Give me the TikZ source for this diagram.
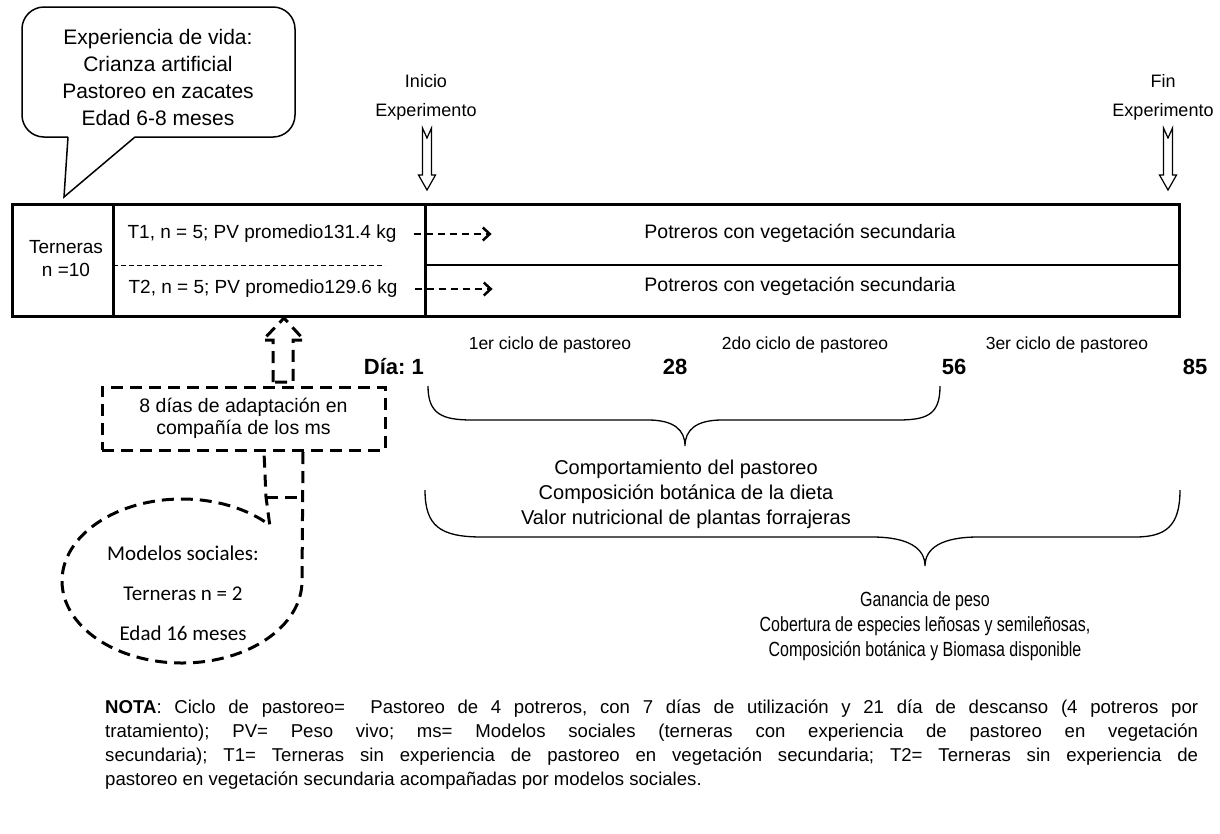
\documentclass[tikz,border=0pt]{standalone}
\usepackage{fontspec}
\setmainfont{Liberation Sans}
\newfontfamily\calfont{Carlito}
\newfontfamily\narrowfont[FakeStretch=0.78]{Liberation Sans}
\usetikzlibrary{arrows.meta}
\frenchspacing

\tikzset{
    lbl/.style={inner sep=0pt, align=center, font=\fontsize{19}{23}\selectfont},
    ciclo/.style={inner sep=0pt, font=\fontsize{17.5}{21}\selectfont},
    daynum/.style={inner sep=0pt, font=\bfseries\fontsize{22}{26}\selectfont},
    resumen/.style={inner sep=0pt, align=center, font=\fontsize{20}{25}\selectfont},
    thickdash/.style={line width=3pt, dash pattern=on 12pt off 7pt},
    flecha/.style={line width=1.3pt, dash pattern=on 7pt off 5pt, -{Straight Barb[length=7pt,width=13pt,line width=2.5pt]}},
    llave/.style={line width=1.3pt},
}

\begin{document}
\begin{tikzpicture}[x=1pt, y=-1pt]
    \useasboundingbox (0,0) rectangle (1220,833);

    % Experiencia de vida
    \draw[line width=1.5pt, rounded corners=22pt] (68,137) -- (22,137) -- (22,7) -- (295,7) -- (295,137) -- (135,137);
    \draw[line width=1.5pt] (68,137) -- (64,197) -- (135,137);
    \node[lbl, font=\fontsize{21}{27}\selectfont] (vida) at (158,77) {Experiencia de vida:\\Crianza artificial\\Pastoreo en zacates\\Edad 6-8 meses};

    % Inicio / Fin
    \node[lbl, font=\fontsize{18}{29}\selectfont] (inicio) at (426,97) {Inicio\\Experimento};
    \node[lbl, font=\fontsize{18}{29}\selectfont] (fin) at (1163,97) {Fin\\Experimento};
    \foreach \ax in {427,1168}
        \draw[line width=1.2pt, fill=white] ({\ax-4.5},128) -- (\ax,138) -- ({\ax+4.5},128) -- ({\ax+4.5},175)
            -- ({\ax+8.5},175) -- (\ax,190) -- ({\ax-8.5},175) -- ({\ax-4.5},175) -- cycle;

    % Tabla
    \draw[line width=3pt] (12,204) rectangle (1179,316);
    \foreach \vx in {113,425}
        \draw[line width=3pt] (\vx,204) -- (\vx,316);
    \draw[line width=1.5pt] (425,265) -- (1179,265);
    \draw[line width=1pt, dash pattern=on 5pt off 3pt] (113,265) -- (385,265);
    \node[lbl] (tern) at (66,259) {Terneras\\n =10};
    \node[lbl] (t1) at (262,234) {T1, n = 5; PV promedio131.4 kg};
    \node[lbl] (t2) at (263,289) {T2, n = 5; PV promedio129.6 kg};
    \node[lbl, font=\fontsize{19.5}{23}\selectfont] (pot1) at (800,233) {Potreros con vegetación secundaria};
    \node[lbl, font=\fontsize{19.5}{23}\selectfont] (pot2) at (800,286) {Potreros con vegetación secundaria};
    \draw[flecha] ([xshift=17pt]t1.east) -- ([xshift=95pt]t1.east);
    \draw[flecha] ([xshift=17pt]t2.east) -- ([xshift=95pt]t2.east);

    % Ciclos de pastoreo
    \node[ciclo] (c1) at (550,345) {1er ciclo de pastoreo};
    \node[ciclo] (c2) at (805,345) {2do ciclo de pastoreo};
    \node[ciclo] (c3) at (1067,345) {3er ciclo de pastoreo};
    \node[daynum, anchor=east] (d1) at (424,367) {Día: 1};
    \node[daynum] (d28) at (675,367) {28};
    \node[daynum] (d56) at (954,367) {56};
    \node[daynum] (d85) at (1195,367) {85};

    % Llaves
    \draw[llave] (428,386) .. controls (428,414) and (442,420) .. (472,420) -- (648,420)
        .. controls (674,420) and (685,430) .. (685,446) .. controls (685,430) and (696,420) .. (722,420)
        -- (898,420) .. controls (928,420) and (940,414) .. (940,386);
    \node[resumen] (var1) at (686,494) {Comportamiento del pastoreo\\Composición botánica de la dieta\\Valor nutricional de plantas forrajeras};
    \draw[llave] (425,490) .. controls (425,526) and (440,537) .. (482,537) -- (872,537)
        .. controls (908,537) and (925,548) .. (925,566) .. controls (925,548) and (942,537) .. (978,537)
        -- (1135,537) .. controls (1166,537) and (1180,526) .. (1180,490);
    \node[resumen, font=\narrowfont\fontsize{20.5}{25}\selectfont] (var2) at (925,626) {Ganancia de peso\\Cobertura de especies leñosas y semileñosas,\\Composición botánica y Biomasa disponible};

    % Adaptacion y modelos sociales
    \node[draw, thickdash, lbl, font=\fontsize{19.5}{22}\selectfont, minimum width=283pt, minimum height=63pt] (adapt) at (243.5,418.5) {8 días de adaptación en\\compañía de los ms};
    \draw[thickdash] (273,382) -- (273,340) -- (263,340) -- (284,318) -- (304,340) -- (293,340) -- (293,382) -- cycle;
    \draw[thickdash] (303,452) -- (302,581) arc[start angle=0, end angle=317, x radius=120, y radius=82] -- (266,497) -- (264,452);
    \draw[thickdash] (266,497) -- (303,497);
    \node[lbl, font=\calfont\fontsize{21}{40}\selectfont] (ms) at (183,593) {Modelos sociales:\\Terneras n = 2\\Edad 16 meses};

    % Nota
    \node[anchor=north west, inner sep=0pt, align=left, font=\fontsize{18.6}{24}\selectfont] (nota) at (105,700) {%
        \makebox[1093pt][s]{\textbf{NOTA}: Ciclo de pastoreo=\ \ Pastoreo de 4 potreros, con 7 días de utilización y 21 día de descanso (4 potreros por}\\
        \makebox[1093pt][s]{tratamiento); PV= Peso vivo; ms= Modelos sociales (terneras con experiencia de pastoreo en vegetación}\\
        \makebox[1093pt][s]{secundaria); T1= Terneras sin experiencia de pastoreo en vegetación secundaria; T2= Terneras sin experiencia de}\\
        pastoreo en vegetación secundaria acompañadas por modelos sociales.};
\end{tikzpicture}
\end{document}
